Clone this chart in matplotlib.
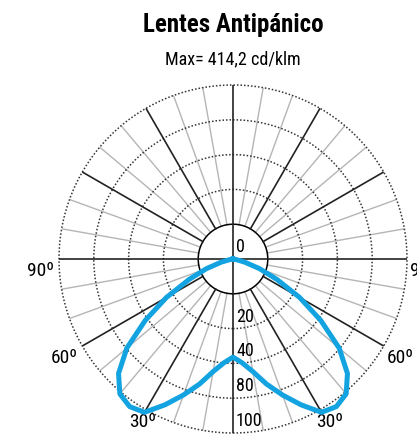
#!/usr/bin/python3

import numpy as np
import matplotlib
matplotlib.use("Agg")
import matplotlib.pyplot as plt
from matplotlib.transforms import offset_copy
from matplotlib import font_manager as fm

# luminous intensity (cd/klm) vs angle from nadir, symmetric
ang_deg = [0, 5, 10, 15, 20, 25, 30, 35, 40, 45, 50, 55, 60, 65, 70, 75, 80, 85, 90]
intens = [225.6, 239.5, 262.8, 297.7, 332.6, 369.8, 407.0, 414.2, 404.7, 372.1,
          318.6, 246.5, 176.7, 111.6, 65.0, 28.0, 7.0, 0.0, 0.0]

title = "Lentes Antipánico"
subtitle = "Max= 414,2 cd/klm"

# grid rings and the text shown next to them
rings = [80, 160, 240, 320, 400]
ring_labels = ["0", "20", "40", "80", "100"]

# angle labels: (angle, text, ha)
ang_labels = [(-90, "90º", "right"), (90, "90º", "left"),
              (-60, "60º", "right"), (60, "60º", "left"),
              (-30, "30º", "center"), (30, "30º", "center")]

col_curve = "#12a3e0"

#_____________________________________________________________________________
def pick_font():

    have = set(f.name for f in fm.fontManager.ttflist)
    for nam in ["Roboto Condensed", "Archivo Narrow", "PT Sans Narrow",
                "Liberation Sans Narrow", "Asap Condensed"]:
        if nam in have:
            return [nam, "DejaVu Sans"]
    return ["DejaVu Sans"]

#pick_font

#_____________________________________________________________________________
def main():

    fam = pick_font()

    fig = plt.figure(figsize=(4.17, 4.34), dpi=100)

    rpx = 174.
    ax = fig.add_axes([(233-rpx)/417., (434-259-rpx)/434., 2*rpx/417., 2*rpx/434.],
                      projection="polar")
    ax.set_theta_zero_location("S")
    ax.set_rlim(0, rings[-1])
    ax.grid(False)
    ax.set_xticks([])
    ax.set_yticks([])
    ax.spines["polar"].set_visible(False)
    ax.patch.set_alpha(0)

    draw_grid(ax)

    #curve, mirrored to negative angles
    th = np.radians(ang_deg)
    r = np.array(intens)
    th_all = np.concatenate([-th[::-1], th[1:]])
    r_all = np.concatenate([r[::-1], r[1:]])
    ax.plot(th_all, r_all, "-", color=col_curve, lw=3.6, zorder=5,
            clip_on=False, solid_joinstyle="round")

    set_labels(fig, ax, fam)

    fig.text(233/417., 1-32/434., title, ha="center", va="baseline",
             fontsize=18, fontweight="bold", family=fam)
    fig.text(233/417., 1-64/434., subtitle, ha="center", va="baseline",
             fontsize=13, family=fam)

    fig.savefig("out.png", dpi=100)
    plt.close()

#main

#_____________________________________________________________________________
def draw_grid(ax):

    tt = np.linspace(0, 2*np.pi, 400)

    #dotted rings
    for rr in rings[1:]:
        ax.plot(tt, np.full_like(tt, rr), color="#333333", lw=1.1,
                ls=(0, (1, 1.3)), zorder=2, clip_on=False)

    #inner solid ring
    ax.plot(tt, np.full_like(tt, rings[0]), color="black", lw=1.1, zorder=3)

    #radial lines every 10 deg, black every 30 deg
    for a in range(0, 360, 10):
        t = np.radians(a)
        if a % 90 == 0:
            ax.plot([t, t], [0, rings[-1]], color="#222222", lw=1.2, zorder=3)
        elif a % 30 == 0:
            ax.plot([t, t], [rings[0], rings[-1]], color="#222222", lw=1.2, zorder=3)
        else:
            ax.plot([t, t], [rings[0], rings[-1]], color="#b5b5b5", lw=1.0, zorder=1)

#draw_grid

#_____________________________________________________________________________
def set_labels(fig, ax, fam):

    #ring values along the nadir line
    tr = offset_copy(ax.transData, fig=fig, x=3, y=3, units="dots")
    for i in range(len(rings)):
        rr = 0 if i == 0 else rings[i]
        ax.text(0, rr, ring_labels[i], transform=tr, ha="left", va="bottom",
                fontsize=13, family=fam, zorder=6)

    #angle labels outside the outer ring
    for a, txt, ha in ang_labels:
        dx = 0
        if ha == "right": dx = -5
        if ha == "left": dx = 3
        if abs(a) == 30: dx = -3 if a < 0 else 10
        tr = offset_copy(ax.transData, fig=fig, x=dx, y=-3, units="dots")
        ax.text(np.radians(a), rings[-1], txt, transform=tr, ha=ha, va="top",
                fontsize=14, family=fam, clip_on=False)

#set_labels

#_____________________________________________________________________________
if __name__ == "__main__":

    main()
